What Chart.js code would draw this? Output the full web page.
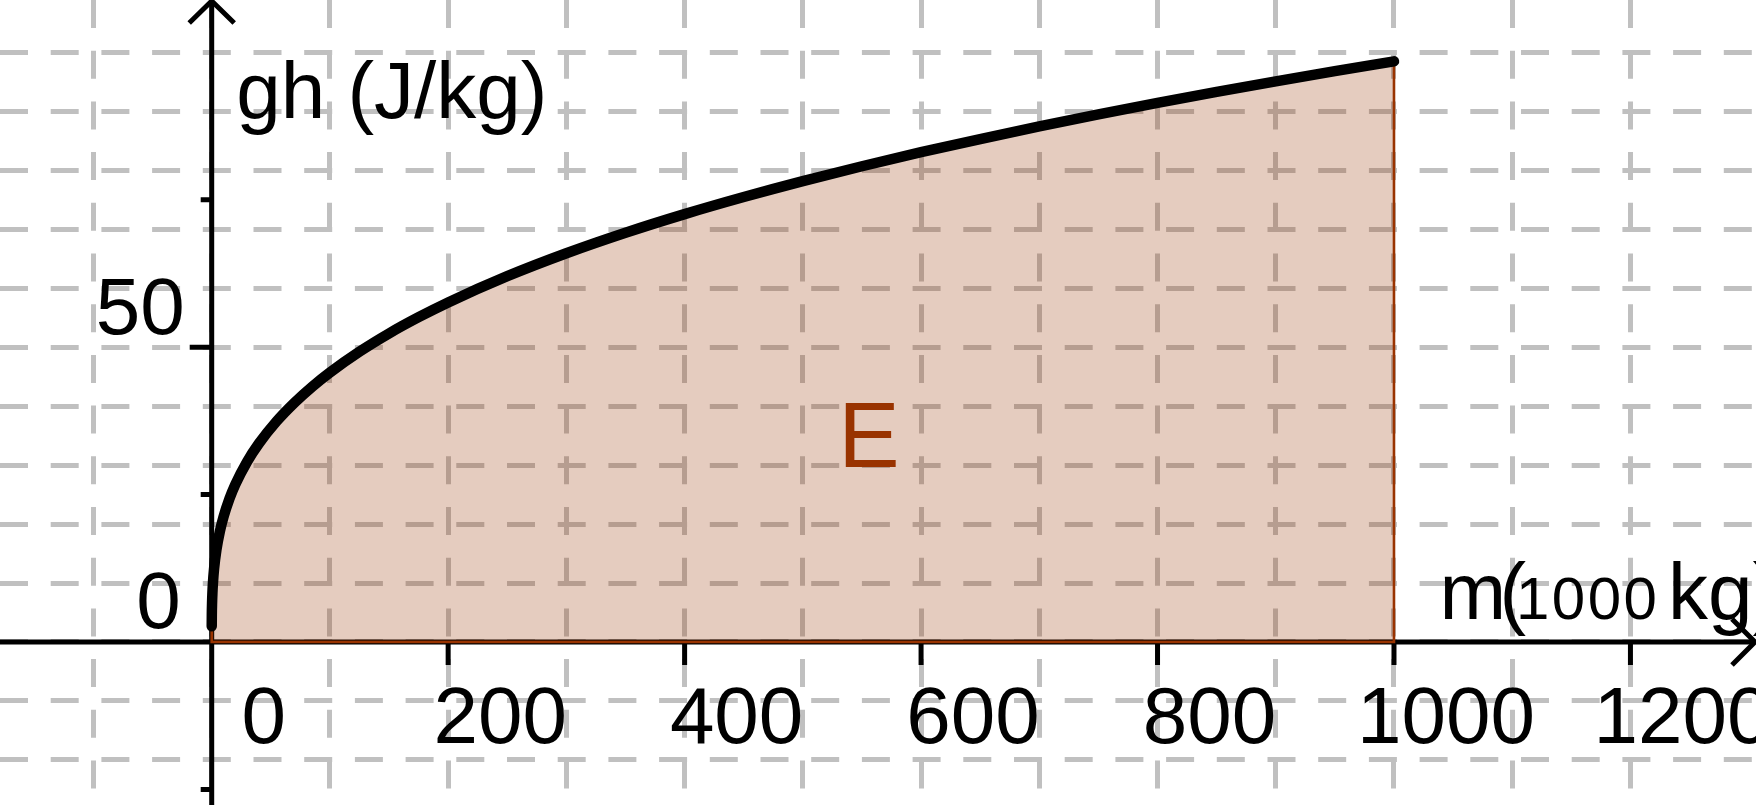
<!DOCTYPE html>
<html>
<head>
<meta charset="utf-8">
<style>
html,body{margin:0;padding:0;background:#ffffff;overflow:hidden}
canvas{display:block}
</style>
<script src="https://cdn.jsdelivr.net/npm/chart.js"></script>
</head>
<body>
<canvas id="c" width="1756" height="805"></canvas>
<script>
// ---- data ----
const massValues = [0.02, 0.1, 0.3, 0.6, 1, 2, 4, 7, 10, 15, 20, 30, 40, 55, 70, 85, 100, 125, 150, 175, 200,
  250, 300, 350, 400, 450, 500, 550, 600, 650, 700, 750, 800, 850, 900, 950, 1000];
const ghValues = [2.67, 4.57, 6.59, 8.31, 9.85, 12.41, 15.64, 18.84, 21.22, 24.29, 26.74, 30.61, 33.69, 37.46, 40.59, 43.31, 45.72, 49.25, 52.34, 55.09, 57.60,
  62.05, 65.94, 69.42, 72.58, 75.48, 78.18, 80.70, 83.08, 85.32, 87.46, 89.49, 91.44, 93.31, 95.10, 96.83, 98.5];
const areaStart = 0;
const areaEnd = 1000;
const xTickValues = [200, 400, 600, 800, 1000, 1200];
const xLabelValues = [0, 200, 400, 600, 800, 1000, 1200];
const xTickLabels = ['0', '200', '400', '600', '800', '1000', '1200'];
const yMajorTicks = [50];
const yMinorTicks = [-25, 25, 75];
const yLabelValues = [0, 50];
const yTickLabels = ['0', '50'];
const xRange = [-179.06, 1306.2];
const yRange = [-27.65, 108.9];
const xGridStep = 100;
const yGridStep = 10;
const yTitle = 'gh (J/kg)';
const xTitleParts = ['m', '(', '1000', 'kg)'];
const areaLabel = 'E';
const areaLabelPos = [530, 29.6];

// ---- styles ----
const BROWN = '#993300';
const FONT = '"Liberation Sans", Arial, sans-serif';

const curvePts = massValues.map((m, i) => ({x: m, y: ghValues[i]}));
const last = ghValues[ghValues.length - 1];
const edgePts = [{x: areaStart, y: ghValues[0]}, {x: areaStart, y: 0}, {x: areaEnd, y: 0}, {x: areaEnd, y: last}];

function keepMultiples(step) {
  return function (scale) {
    scale.ticks = scale.ticks.filter(t => Math.abs(t.value / step - Math.round(t.value / step)) < 1e-6);
  };
}

const axesPlugin = {
  id: 'geoAxes',
  beforeDatasetsDraw(chart) {
    const {ctx, chartArea: ca} = chart;
    const xs = chart.scales.x, ys = chart.scales.y;
    const ox = xs.getPixelForValue(0), oy = ys.getPixelForValue(0);
    ctx.save();
    ctx.strokeStyle = '#000';
    ctx.lineWidth = 5;
    ctx.lineCap = 'butt';
    ctx.lineJoin = 'miter';
    ctx.beginPath();
    ctx.moveTo(ca.left, oy); ctx.lineTo(ca.right - 1.5, oy);
    ctx.moveTo(ox, ca.bottom); ctx.lineTo(ox, ca.top + 1.5);
    ctx.stroke();
    // arrows
    ctx.beginPath();
    ctx.moveTo(ox - 22.5, ca.top + 23); ctx.lineTo(ox, ca.top + 1); ctx.lineTo(ox + 22.5, ca.top + 23);
    ctx.moveTo(ca.right - 24, oy - 23); ctx.lineTo(ca.right - 1, oy); ctx.lineTo(ca.right - 24, oy + 23);
    ctx.stroke();
    // ticks
    ctx.beginPath();
    xTickValues.forEach(v => { const p = xs.getPixelForValue(v); ctx.moveTo(p, oy); ctx.lineTo(p, oy + 23); });
    yMajorTicks.forEach(v => { const p = ys.getPixelForValue(v); ctx.moveTo(ox - 22, p); ctx.lineTo(ox, p); });
    yMinorTicks.forEach(v => { const p = ys.getPixelForValue(v); ctx.moveTo(ox - 11, p); ctx.lineTo(ox, p); });
    ctx.stroke();
    ctx.restore();
  },
  afterDatasetsDraw(chart) {
    const {ctx} = chart;
    const xs = chart.scales.x, ys = chart.scales.y;
    const ox = xs.getPixelForValue(0), oy = ys.getPixelForValue(0);
    ctx.save();
    ctx.fillStyle = '#000';
    ctx.textBaseline = 'alphabetic';
    ctx.font = '80px ' + FONT;
    // x labels
    ctx.textAlign = 'center';
    xLabelValues.forEach((v, i) => ctx.fillText(xTickLabels[i], xs.getPixelForValue(v) + 52, oy + 101));
    // y labels
    ctx.textAlign = 'right';
    yLabelValues.forEach((v, i) => ctx.fillText(yTickLabels[i], ox - (v === 0 ? 31 : 27), ys.getPixelForValue(v) - 13.5));
    // y title
    ctx.textAlign = 'left';
    ctx.fillText(yTitle, ox + 24.5, 118.3);
    // x title
    const xb = oy - 23;
    ctx.fillText(xTitleParts[0], 1439.5, xb);
    ctx.fillText(xTitleParts[1], 1499.5, xb);
    ctx.fillText(xTitleParts[3], 1668, xb);
    ctx.font = '60px ' + FONT;
    if ('letterSpacing' in ctx) ctx.letterSpacing = '2.5px';
    ctx.fillText(xTitleParts[2], 1516, xb);
    if ('letterSpacing' in ctx) ctx.letterSpacing = '0px';
    // area label
    ctx.font = '92px ' + FONT;
    ctx.fillStyle = BROWN;
    ctx.fillText(areaLabel, xs.getPixelForValue(areaLabelPos[0]), ys.getPixelForValue(areaLabelPos[1]));
    ctx.restore();
  }
};

const gridCommon = {color: '#c0c0c0', lineWidth: 5, drawTicks: false, tickLength: 0};

new Chart(document.getElementById('c'), {
  type: 'line',
  data: {
    datasets: [
      {data: curvePts, borderColor: '#000', borderWidth: 10.5, borderCapStyle: 'round', borderJoinStyle: 'round',
        pointRadius: 0, fill: false, cubicInterpolationMode: 'monotone', order: 0},
      {data: edgePts, borderColor: BROWN, borderWidth: 2.6, pointRadius: 0, fill: false, tension: 0, order: 1},
      {data: curvePts, borderWidth: 0, borderColor: 'rgba(0,0,0,0)', backgroundColor: 'rgba(153,51,0,0.25)',
        pointRadius: 0, fill: 'origin', cubicInterpolationMode: 'monotone', order: 2}
    ]
  },
  options: {
    responsive: false,
    devicePixelRatio: 1,
    animation: false,
    events: [],
    layout: {padding: 0, autoPadding: false},
    plugins: {legend: {display: false}, tooltip: {enabled: false}, title: {display: false}},
    scales: {
      x: {
        type: 'linear', position: 'bottom', min: xRange[0], max: xRange[1], offset: false,
        ticks: {display: false, stepSize: xGridStep, autoSkip: false},
        grid: gridCommon,
        border: {display: false, dash: [28, 22.7]},
        afterBuildTicks: keepMultiples(xGridStep),
        afterFit: s => { s.height = 0; s.paddingTop = 0; s.paddingBottom = 0; s.paddingLeft = 0; s.paddingRight = 0; }
      },
      y: {
        type: 'linear', position: 'left', min: yRange[0], max: yRange[1], offset: false,
        ticks: {display: false, stepSize: yGridStep, autoSkip: false},
        grid: gridCommon,
        border: {display: false, dash: [28, 22.7]},
        afterBuildTicks: keepMultiples(yGridStep),
        afterFit: s => { s.width = 0; s.paddingTop = 0; s.paddingBottom = 0; s.paddingLeft = 0; s.paddingRight = 0; }
      }
    }
  },
  plugins: [axesPlugin]
});
</script>
</body>
</html>
